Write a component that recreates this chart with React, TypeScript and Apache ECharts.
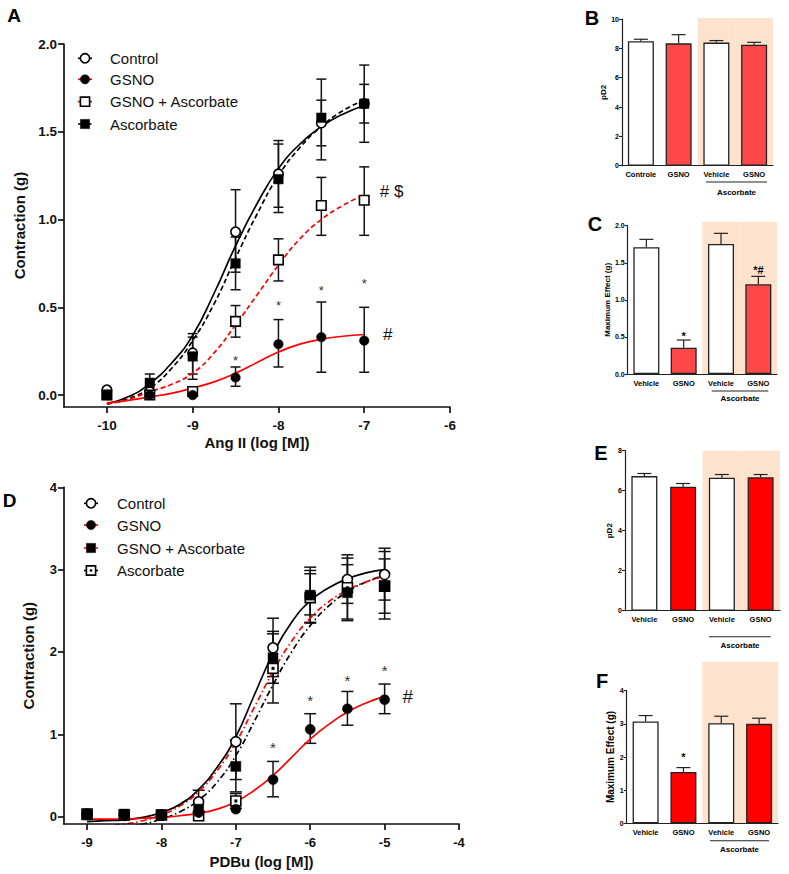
import React, { useEffect, useRef } from "react";
import * as echarts from "echarts";

const FONT = "'Liberation Sans', Arial, Helvetica, sans-serif";
const INK = "#111111";
const RED = "#ff0000";
const RED_LIGHT = "#ff4848";
const PEACH = "#fde3cd";

// ---------------- Panel A : Ang II ----------------
const angDoses = [-10, -9.5, -9, -8.5, -8, -7.5, -7];
const angControl = [0.03, 0.02, 0.24, 0.93, 1.26, 1.55, 1.66];
const angControlLo = [null, null, 0.12, 0.7, 1.07, 1.34, 1.44];
const angControlHi = [null, null, 0.35, 1.17, 1.45, 1.8, 1.88];
const angGsno = [0.0, 0.0, 0.0, 0.1, 0.29, 0.33, 0.31];
const angGsnoLo = [null, null, null, 0.05, 0.16, 0.13, 0.13];
const angGsnoHi = [null, null, null, 0.16, 0.43, 0.53, 0.5];
const angGsnoAsc = [0.0, 0.0, 0.02, 0.42, 0.77, 1.08, 1.11];
const angGsnoAscLo = [null, null, null, 0.33, 0.65, 0.91, 0.91];
const angGsnoAscHi = [null, null, null, 0.51, 0.89, 1.24, 1.3];
const angAsc = [0.0, 0.07, 0.22, 0.75, 1.23, 1.58, 1.66];
const angAscLo = [null, 0.02, 0.09, 0.6, 1.04, 1.42, 1.55];
const angAscHi = [null, 0.12, 0.33, 0.9, 1.43, 1.68, 1.77];

const angFitX = [-10, -9.75, -9.5, -9.25, -9, -8.75, -8.5, -8.25, -8, -7.75, -7.5, -7.25, -7];
const angFitControl = [-0.05, -0.01, 0.065, 0.18, 0.34, 0.58, 0.85, 1.09, 1.29, 1.43, 1.53, 1.6, 1.65];
const angFitAsc = [-0.05, -0.02, 0.04, 0.15, 0.31, 0.52, 0.78, 1.03, 1.25, 1.41, 1.53, 1.62, 1.68];
const angFitGsnoAsc = [-0.05, -0.025, 0.02, 0.06, 0.125, 0.24, 0.4, 0.57, 0.74, 0.89, 1.0, 1.08, 1.14];
const angFitGsno = [-0.045, -0.03, -0.01, 0.01, 0.04, 0.075, 0.125, 0.185, 0.245, 0.29, 0.318, 0.335, 0.345];

const angStarX = [-8.5, -8, -7.5, -7];
const angStarY = [0.22, 0.53, 0.62, 0.66];
const angMarkX = [-6.68, -6.725];
const angMarkY = [1.16, 0.344];
const angMarkText = ["# $", "#"];

const angTicksX = [-10, -9, -8, -7, -6];
const angTicksY = [0, 0.5, 1, 1.5, 2];
const legendA = ["Control", "GSNO", "GSNO + Ascorbate", "Ascorbate"];

// ---------------- Panel D : PDBu ----------------
const pdbuDoses = [-9, -8.5, -8, -7.5, -7, -6.5, -6, -5.5, -5];
const pdbuControl = [0.03, 0.02, 0.02, 0.18, 0.91, 2.05, 2.67, 2.88, 2.94];
const pdbuControlLo = [null, null, null, 0.05, 0.45, 1.7, 2.35, 2.59, 2.63];
const pdbuControlHi = [null, null, null, 0.32, 1.37, 2.41, 3.03, 3.18, 3.26];
const pdbuGsno = [0.02, 0.01, 0.02, 0.05, 0.09, 0.45, 1.06, 1.31, 1.42];
const pdbuGsnoLo = [null, null, null, null, null, 0.24, 0.89, 1.11, 1.25];
const pdbuGsnoHi = [null, null, null, null, null, 0.67, 1.25, 1.52, 1.61];
const pdbuGsnoAsc = [0.02, 0.03, 0.02, 0.09, 0.61, 1.93, 2.69, 2.72, 2.8];
const pdbuGsnoAscLo = [null, null, null, null, 0.3, 1.62, 2.45, 2.38, 2.4];
const pdbuGsnoAscHi = [null, null, null, null, 0.93, 2.25, 2.95, 3.06, 3.22];
const pdbuAsc = [0.03, 0.02, 0.02, 0.01, 0.19, 1.8, 2.66, 2.78, 2.8];
const pdbuAscLo = [null, null, null, null, 0.1, 1.38, 2.36, 2.4, 2.47];
const pdbuAscHi = [null, null, null, null, 0.28, 2.22, 2.99, 3.14, 3.13];

const pdbuFitX = [-9, -8.75, -8.5, -8.25, -8, -7.75, -7.5, -7.25, -7, -6.75, -6.5, -6.25, -6, -5.75, -5.5, -5.25, -5];
const pdbuFitControl = [-0.06, -0.05, -0.04, -0.01, 0.05, 0.15, 0.33, 0.6, 0.97, 1.48, 1.98, 2.36, 2.62, 2.78, 2.89, 2.96, 3.0];
const pdbuFitGsno = [-0.03, -0.03, -0.03, -0.02, -0.01, 0.01, 0.04, 0.09, 0.18, 0.32, 0.5, 0.72, 0.94, 1.12, 1.27, 1.38, 1.46];
const pdbuFitGsnoAsc = [-0.12, -0.11, -0.09, -0.05, 0.02, 0.13, 0.3, 0.56, 0.9, 1.33, 1.76, 2.13, 2.41, 2.61, 2.75, 2.85, 2.92];
const pdbuFitAsc = [-0.15, -0.14, -0.12, -0.09, -0.03, 0.06, 0.2, 0.42, 0.74, 1.16, 1.6, 2.0, 2.32, 2.56, 2.73, 2.85, 2.93];

const pdbuStarX = [-6.5, -6, -5.5, -5];
const pdbuStarY = [0.9, 1.46, 1.71, 1.83];
const pdbuMarkX = [-4.69];
const pdbuMarkY = [1.46];
const pdbuMarkText = ["#"];

const pdbuTicksX = [-9, -8, -7, -6, -5, -4];
const pdbuTicksY = [0, 1, 2, 3, 4];
const legendD = ["Control", "GSNO", "GSNO + Ascorbate", "Ascorbate"];

// ---------------- Bar panels ----------------
const catsB = ["Controle", "GSNO", "Vehicle", "GSNO"];
const catsCEF = ["Vehicle", "GSNO", "Vehicle", "GSNO"];
const pd2B = [8.48, 8.34, 8.39, 8.25];
const pd2BHi = [8.62, 8.93, 8.53, 8.41];
const emaxC = [1.71, 0.355, 1.753, 1.21];
const emaxCHi = [1.816, 0.458, 1.897, 1.317];
const pd2E = [6.73, 6.2, 6.65, 6.67];
const pd2EHi = [6.86, 6.36, 6.81, 6.81];
const emaxF = [3.07, 1.55, 3.02, 3.0];
const emaxFHi = [3.25, 1.68, 3.23, 3.17];
const shadeB = [null, null, 10.07, 10.07];
const shadeC = [null, null, 2.054, 2.054];
const shadeE = [null, null, 8.0, 8.0];
const shadeF = [null, null, 4.87, 4.87];
const starC = [1, 3];
const starCY = [0.557, 1.447];
const starCText = ["*", "*#"];
const starF = [1];
const starFY = [2.11];
const starFText = ["*"];

// ---------------- helpers ----------------
const pairs = (xs: number[], ys: number[]) => xs.map((x, i) => [x, ys[i]]);
const errData = (xs: number[], lo: (number | null)[], hi: (number | null)[]) =>
  xs
    .map((x, i) => (lo[i] == null || hi[i] == null ? null : [x, lo[i], hi[i]]))
    .filter((d) => d !== null);

function errorSeries(xi: number, yi: number, data: any[], cap: number, z = 2) {
  return {
    type: "custom",
    xAxisIndex: xi,
    yAxisIndex: yi,
    z,
    silent: true,
    data,
    renderItem: (params: any, api: any) => {
      const x = api.value(0);
      const a = api.coord([x, api.value(2)]);
      const b = api.coord([x, api.value(1)]);
      const st = { stroke: INK, lineWidth: 1.5 };
      return {
        type: "group",
        children: [
          { type: "line", shape: { x1: a[0], y1: a[1], x2: b[0], y2: b[1] }, style: st },
          { type: "line", shape: { x1: a[0] - cap, y1: a[1], x2: a[0] + cap, y2: a[1] }, style: st },
          { type: "line", shape: { x1: b[0] - cap, y1: b[1], x2: b[0] + cap, y2: b[1] }, style: st },
        ],
      };
    },
  };
}

function barErrorSeries(xi: number, yi: number, vals: number[], hi: number[]) {
  return {
    type: "custom",
    xAxisIndex: xi,
    yAxisIndex: yi,
    z: 3,
    silent: true,
    data: vals.map((v, i) => [i, v, hi[i]]),
    renderItem: (params: any, api: any) => {
      const a = api.coord([api.value(0), api.value(2)]);
      const b = api.coord([api.value(0), api.value(1)]);
      const st = { stroke: "#222", lineWidth: 1.2 };
      return {
        type: "group",
        children: [
          { type: "line", shape: { x1: a[0], y1: a[1], x2: b[0], y2: b[1] }, style: st },
          { type: "line", shape: { x1: a[0] - 7, y1: a[1], x2: a[0] + 7, y2: a[1] }, style: st },
        ],
      };
    },
  };
}

function textSeries(
  xi: number,
  yi: number,
  xs: number[],
  ys: number[],
  texts: string[],
  size: number,
  color: string,
  weight: string,
  starShift: number
) {
  return {
    type: "custom",
    xAxisIndex: xi,
    yAxisIndex: yi,
    z: 6,
    silent: true,
    data: xs.map((x, i) => [x, ys[i]]),
    renderItem: (params: any, api: any) => {
      const p = api.coord([api.value(0), api.value(1)]);
      return {
        type: "text",
        x: p[0],
        y: p[1] + size * starShift,
        style: {
          text: texts[params.dataIndex],
          fontSize: size,
          fontFamily: FONT,
          fontWeight: weight,
          fill: color,
          textAlign: "center",
          textVerticalAlign: "middle",
          align: "center",
          verticalAlign: "middle",
        },
      };
    },
  };
}

function curve(xi: number, yi: number, xs: number[], ys: number[], color: string, dash: any) {
  return {
    type: "line",
    xAxisIndex: xi,
    yAxisIndex: yi,
    z: 3,
    silent: true,
    data: pairs(xs, ys),
    showSymbol: false,
    symbol: "none",
    smooth: 0.5,
    clip: true,
    lineStyle: { color, width: 1.7, type: dash },
  };
}

function markers(xi: number, yi: number, xs: number[], ys: number[], kind: string, size = 9.5) {
  const filled = kind === "filledCircle" || kind === "filledSquare";
  const isCircle = kind === "openCircle" || kind === "filledCircle";
  return {
    type: "scatter",
    xAxisIndex: xi,
    yAxisIndex: yi,
    z: 4,
    silent: true,
    data: pairs(xs, ys),
    symbol: isCircle ? "circle" : "rect",
    symbolSize: size,
    itemStyle: filled
      ? { color: "#000", borderColor: "#000", borderWidth: 0.5, opacity: 1 }
      : { color: "#fff", borderColor: "#000", borderWidth: 1.6, opacity: 1 },
  };
}

function valueAxis(grid: number, min: number, max: number, ticks: number[], extra: any) {
  return {
    type: "value",
    gridIndex: grid,
    min,
    max,
    z: 5,
    splitLine: { show: false },
    axisLine: { show: true, onZero: false, lineStyle: { color: INK, width: 1.7 } },
    axisTick: { show: true, length: 6, customValues: ticks, lineStyle: { color: INK, width: 1.7 } },
    axisLabel: {
      show: true,
      customValues: ticks,
      fontSize: 13,
      fontWeight: "bold",
      fontFamily: FONT,
      color: INK,
      ...(extra.label || {}),
    },
    nameLocation: "middle",
    nameTextStyle: { fontSize: 15, fontWeight: "bold", fontFamily: FONT, color: INK },
    ...extra.axis,
  };
}

function barYAxis(grid: number, max: number, interval: number, name: string, gap: number, nameSize: number, fmt?: (v: number) => string) {
  const label: any = { fontSize: 7, fontWeight: "bold", fontFamily: FONT, color: "#000", margin: 3 };
  if (fmt) label.formatter = fmt;
  return {
    type: "value",
    gridIndex: grid,
    min: 0,
    max,
    interval,
    z: 5,
    name,
    nameLocation: "middle",
    nameGap: gap,
    nameTextStyle: { fontSize: nameSize, fontWeight: "bold", fontFamily: FONT, color: "#000" },
    splitLine: { show: false },
    axisLine: { show: true, onZero: false, lineStyle: { color: "#222", width: 1.2 } },
    axisTick: { show: true, length: 3, lineStyle: { color: "#222", width: 1.1 } },
    axisLabel: label,
  };
}

function barXAxis(grid: number, cats: string[], hidden: boolean) {
  return {
    type: "category",
    gridIndex: grid,
    data: cats,
    show: !hidden,
    z: 5,
    axisLine: { show: !hidden, onZero: false, lineStyle: { color: "#222", width: 1.2 } },
    axisTick: { show: false },
    axisLabel: { show: !hidden, fontSize: 7.5, fontWeight: "bold", fontFamily: FONT, color: "#000", margin: 5, interval: 0 },
    splitLine: { show: false },
  };
}

function barSeries(xi: number, yi: number, vals: number[], red: string) {
  return {
    type: "bar",
    xAxisIndex: xi,
    yAxisIndex: yi,
    z: 2,
    silent: true,
    barWidth: 26,
    data: vals,
    itemStyle: {
      color: (p: any) => (p.dataIndex % 2 === 1 ? red : "#ffffff"),
      borderColor: "#222",
      borderWidth: 1.3,
    },
  };
}

function shadeSeries(xi: number, yi: number, vals: (number | null)[]) {
  return {
    type: "bar",
    xAxisIndex: xi,
    yAxisIndex: yi,
    z: 0,
    silent: true,
    clip: false,
    barWidth: "100%",
    data: vals,
    itemStyle: { color: PEACH },
  };
}

// -------- graphic: legends, panel letters, group underlines --------
function legendRows(labels: string[], ys: number[], x0: number, x1: number, tx: number, styles: any[]) {
  const els: any[] = [];
  labels.forEach((lab, i) => {
    const s = styles[i];
    const y = ys[i];
    const mx = (x0 + x1) / 2;
    els.push({
      type: "line",
      shape: { x1: x0, y1: y, x2: x1, y2: y },
      style: { stroke: s.color, lineWidth: 1.7, lineDash: s.dash },
      z: 10,
    });
    const filled = s.marker.startsWith("filled");
    const mstyle = filled
      ? { fill: "#000", stroke: "#000", lineWidth: 0.5 }
      : { fill: "#fff", stroke: "#000", lineWidth: 1.6 };
    if (s.marker.endsWith("Circle")) {
      els.push({ type: "circle", shape: { cx: mx, cy: y, r: 4.6 }, style: mstyle, z: 11 });
    } else {
      els.push({ type: "rect", shape: { x: mx - 4.6, y: y - 4.6, width: 9.2, height: 9.2 }, style: mstyle, z: 11 });
      if (s.marker === "dotSquare") {
        els.push({ type: "rect", shape: { x: mx - 1.2, y: y - 1.2, width: 2.4, height: 2.4 }, style: { fill: "#000" }, z: 12 });
      }
    }
    els.push({
      type: "text",
      x: tx,
      y,
      z: 11,
      style: {
        text: lab,
        fontSize: 15,
        fontFamily: FONT,
        fill: INK,
        textAlign: "left",
        textVerticalAlign: "middle",
        align: "left",
        verticalAlign: "middle",
      },
    });
  });
  return els;
}

function label(text: string, x: number, y: number, size: number, weight = "bold") {
  return {
    type: "text",
    x,
    y,
    z: 11,
    style: {
      text,
      fontSize: size,
      fontWeight: weight,
      fontFamily: FONT,
      fill: "#000",
      textAlign: "center",
      textVerticalAlign: "middle",
      align: "center",
      verticalAlign: "middle",
    },
  };
}

function hline(x1: number, x2: number, y: number) {
  return { type: "line", z: 11, shape: { x1, y1: y, x2, y2: y }, style: { stroke: "#222", lineWidth: 1.1 } };
}

export default function App() {
  const ref = useRef<HTMLDivElement>(null);
  useEffect(() => {
    if (!ref.current) return;
    const chart = echarts.init(ref.current, undefined, { renderer: "svg" });

    const grids = [
      { left: 64, top: 44, width: 386, height: 363 }, // A
      { left: 64, top: 487.3, width: 395, height: 336.7 }, // D
      { left: 622, top: 19, width: 151, height: 146.7 }, // B
      { left: 627.7, top: 225.7, width: 149.3, height: 148.3 }, // C
      { left: 625, top: 450.7, width: 155, height: 160 }, // E
      { left: 626.7, top: 690.7, width: 151.3, height: 132.6 }, // F
    ].map((g) => ({ ...g, containLabel: false, outerBoundsMode: "none" }));

    const xAxis = [
      valueAxis(0, -10.5, -6, angTicksX, {
        label: { margin: 11, fontSize: 13.5 },
        axis: { name: "Ang II (log [M])", nameGap: 28 },
      }),
      valueAxis(1, -9.31, -4, pdbuTicksX, {
        label: { margin: 12, fontSize: 13 },
        axis: { name: "PDBu (log [M])", nameGap: 30 },
      }),
      barXAxis(2, catsB, false),
      barXAxis(3, catsCEF, false),
      barXAxis(4, catsCEF, false),
      barXAxis(5, catsCEF, false),
      barXAxis(2, catsB, true),
      barXAxis(3, catsCEF, true),
      barXAxis(4, catsCEF, true),
      barXAxis(5, catsCEF, true),
    ];

    const yAxis = [
      valueAxis(0, -0.068, 2.0, angTicksY, {
        label: { margin: 7, fontSize: 13.5, formatter: (v: number) => v.toFixed(1) },
        axis: { name: "Contraction (g)", nameGap: 37 },
      }),
      valueAxis(1, -0.09, 4, pdbuTicksY, {
        label: { margin: 7, fontSize: 13 },
        axis: { name: "Contraction (g)", nameGap: 28 },
      }),
      barYAxis(2, 10, 2, "pD2", 15, 8),
      barYAxis(3, 2, 0.5, "Maximum Effect (g)", 16, 8, (v: number) => v.toFixed(1)),
      barYAxis(4, 8, 2, "pD2", 12, 8),
      barYAxis(5, 4, 1, "Maximum Effect (g)", 10, 10),
    ];

    const series: any[] = [
      // ---- A ----
      errorSeries(0, 0, errData(angDoses, angControlLo, angControlHi), 5),
      errorSeries(0, 0, errData(angDoses, angAscLo, angAscHi), 5),
      errorSeries(0, 0, errData(angDoses, angGsnoAscLo, angGsnoAscHi), 5),
      errorSeries(0, 0, errData(angDoses, angGsnoLo, angGsnoHi), 5),
      curve(0, 0, angFitX, angFitControl, "#000", "solid"),
      curve(0, 0, angFitX, angFitAsc, "#000", [5, 3]),
      curve(0, 0, angFitX, angFitGsnoAsc, RED, [5, 3]),
      curve(0, 0, angFitX, angFitGsno, RED, "solid"),
      markers(0, 0, angDoses, angControl, "openCircle"),
      markers(0, 0, angDoses, angGsnoAsc, "openSquare"),
      markers(0, 0, angDoses, angGsno, "filledCircle"),
      markers(0, 0, angDoses, angAsc, "filledSquare"),
      textSeries(0, 0, angStarX, angStarY, angStarX.map(() => "*"), 13, "#333", "normal", 0.3),
      textSeries(0, 0, angMarkX, angMarkY, angMarkText, 17, INK, "normal", 0),
      // ---- D ----
      errorSeries(1, 1, errData(pdbuDoses, pdbuControlLo, pdbuControlHi), 6),
      errorSeries(1, 1, errData(pdbuDoses, pdbuAscLo, pdbuAscHi), 6),
      errorSeries(1, 1, errData(pdbuDoses, pdbuGsnoAscLo, pdbuGsnoAscHi), 6),
      errorSeries(1, 1, errData(pdbuDoses, pdbuGsnoLo, pdbuGsnoHi), 6),
      curve(1, 1, pdbuFitX, pdbuFitAsc, "#000", [6, 3, 1.5, 3]),
      curve(1, 1, pdbuFitX, pdbuFitGsnoAsc, RED, [6, 3, 1.5, 3]),
      curve(1, 1, pdbuFitX, pdbuFitControl, "#000", "solid"),
      curve(1, 1, pdbuFitX, pdbuFitGsno, RED, "solid"),
      markers(1, 1, pdbuDoses, pdbuControl, "openCircle", 10),
      markers(1, 1, pdbuDoses, pdbuAsc, "openSquare", 10),
      markers(1, 1, pdbuDoses, pdbuAsc, "filledSquare", 2.5),
      markers(1, 1, pdbuDoses, pdbuGsnoAsc, "filledSquare", 10),
      markers(1, 1, pdbuDoses, pdbuGsno, "filledCircle", 10),
      textSeries(1, 1, pdbuStarX, pdbuStarY, pdbuStarX.map(() => "*"), 15, "#333", "normal", 0.3),
      textSeries(1, 1, pdbuMarkX, pdbuMarkY, pdbuMarkText, 19, INK, "normal", 0),
      // ---- bars ----
      shadeSeries(6, 2, shadeB),
      shadeSeries(7, 3, shadeC),
      shadeSeries(8, 4, shadeE),
      shadeSeries(9, 5, shadeF),
      barSeries(2, 2, pd2B, RED_LIGHT),
      barSeries(3, 3, emaxC, RED_LIGHT),
      barSeries(4, 4, pd2E, RED),
      barSeries(5, 5, emaxF, RED),
      barErrorSeries(2, 2, pd2B, pd2BHi),
      barErrorSeries(3, 3, emaxC, emaxCHi),
      barErrorSeries(4, 4, pd2E, pd2EHi),
      barErrorSeries(5, 5, emaxF, emaxFHi),
      textSeries(3, 3, starC, starCY, starCText, 11, "#000", "bold", 0.3),
      textSeries(5, 5, starF, starFY, starFText, 11, "#000", "bold", 0.3),
    ];

    const styleA = [
      { color: "#000", dash: null, marker: "openCircle" },
      { color: RED, dash: null, marker: "filledCircle" },
      { color: RED, dash: [4, 2], marker: "openSquare" },
      { color: "#000", dash: [4, 2, 1.5, 2], marker: "filledSquare" },
    ];
    const styleD = [
      { color: "#000", dash: null, marker: "openCircle" },
      { color: RED, dash: null, marker: "filledCircle" },
      { color: RED, dash: [4, 2], marker: "filledSquare" },
      { color: "#000", dash: null, marker: "dotSquare" },
    ];

    const graphic = [
      ...legendRows(legendA, [58.3, 79.3, 101.7, 124], 78, 92, 110, styleA),
      ...legendRows(legendD, [503.3, 525, 548, 570.5], 84, 98, 117, styleD),
      label("A", 14, 15.5, 19),
      label("D", 9.5, 500, 19),
      label("B", 592, 17.5, 20),
      label("C", 595, 223.5, 20),
      label("E", 601, 452.5, 20),
      label("F", 602, 681, 20),
      hline(706, 767, 182),
      label("Ascorbate", 736.5, 192, 8),
      hline(711.7, 768.3, 391),
      label("Ascorbate", 740, 398.5, 8),
      hline(709, 770.7, 636.7),
      label("Ascorbate", 740, 645.5, 8),
      hline(710, 769, 840.7),
      label("Ascorbate", 739.5, 849.5, 8),
    ];

    chart.setOption({
      animation: false,
      textStyle: { fontFamily: FONT },
      grid: grids,
      xAxis,
      yAxis,
      series,
      graphic: { elements: graphic },
    });
    return () => chart.dispose();
  }, []);

  return (
    <div
      ref={ref}
      style={{ position: "absolute", left: 0, top: 0, width: 789, height: 874, background: "#fff" }}
    />
  );
}
